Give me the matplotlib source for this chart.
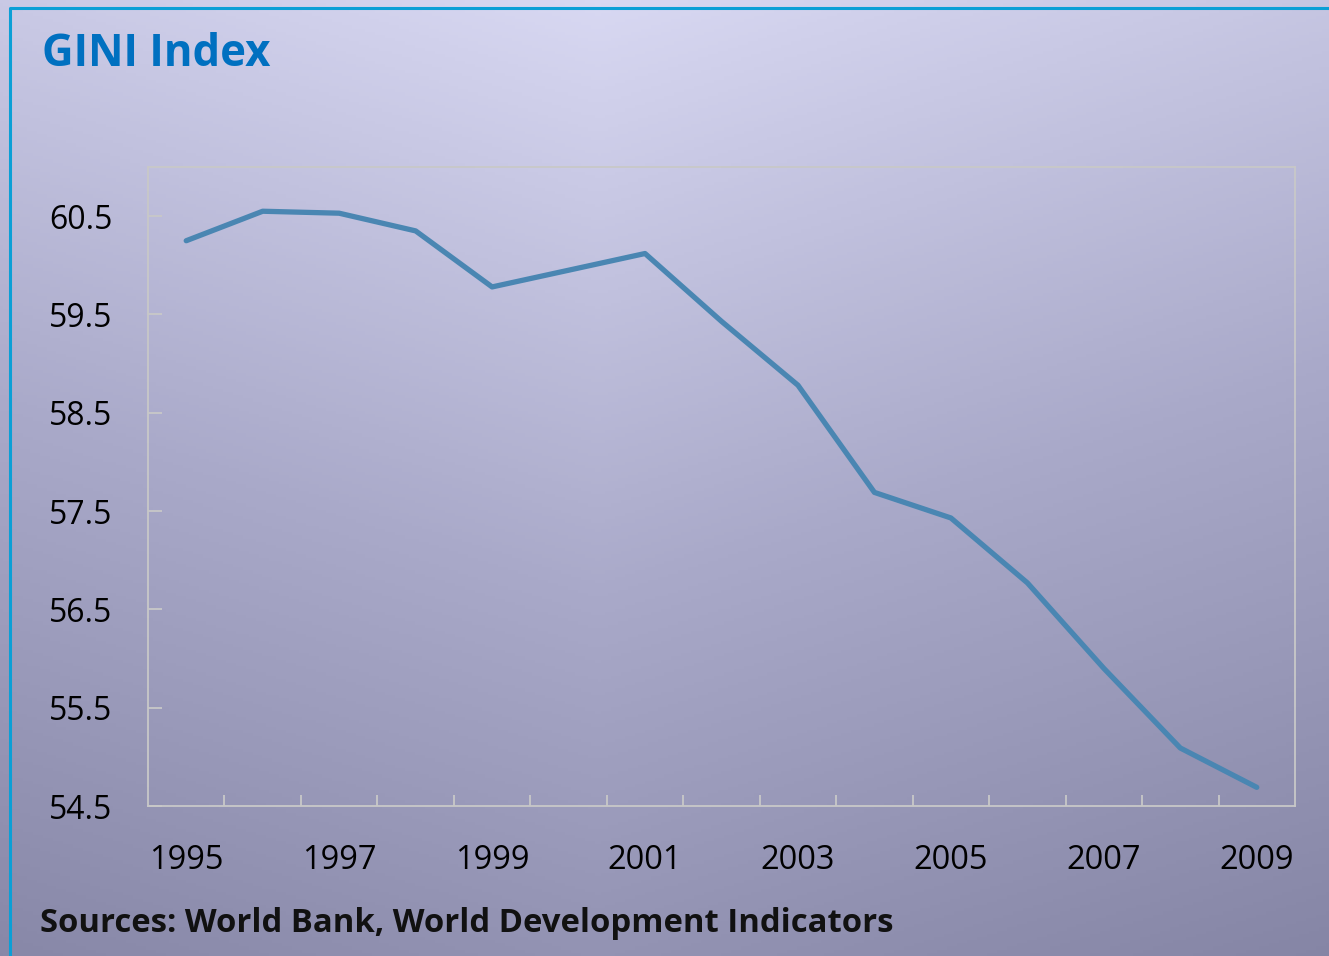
import numpy as np
import matplotlib
matplotlib.use("Agg")
import matplotlib.pyplot as plt
from matplotlib.colors import LinearSegmentedColormap

years = list(range(1995, 2010))
gini = [60.25, 60.55, 60.53, 60.35, 59.78, 59.95, 60.12, 59.43, 58.78,
        57.69, 57.43, 56.77, 55.90, 55.09, 54.69]
ytick_vals = [54.5, 55.5, 56.5, 57.5, 58.5, 59.5, 60.5]
title = "GINI Index"
source = "Sources: World Bank, World Development Indicators"

plt.rcParams['font.family'] = ['Open Sans', 'DejaVu Sans']

fig = plt.figure(figsize=(13.29, 9.56), dpi=100)

# background gradient, lighter at the top middle, darker towards bottom corners
bg = fig.add_axes([0, 0, 1, 1], zorder=-10)
yy, xx = np.mgrid[0:1:300j, 0:1:400j]
val = 0.8 * yy + 0.35 * np.abs(xx - 0.45)
cmap = LinearSegmentedColormap.from_list("bg", ["#d8d8f2", "#a9a9c9", "#8585a5"])
bg.imshow(val, cmap=cmap, aspect='auto', extent=[0, 1, 0, 1], vmin=0, vmax=1.0, origin='upper')
bg.set_xlim(0, 1)
bg.set_ylim(0, 1)
bg.axis('off')
# blue border on top and left
bg.plot([10/1329, 10/1329, 1], [0, 1 - 8/956, 1 - 8/956], color="#0b9fd6", lw=2.2,
        solid_capstyle='butt')

ax = fig.add_axes([148/1329, 1 - 806/956, 1147/1329, 639/956])
ax.patch.set_alpha(0)
x = np.arange(len(years))
ax.plot(x, gini, color="#4a86b2", lw=3.8, solid_capstyle='round', solid_joinstyle='round')
ax.set_xlim(-0.5, len(years) - 0.5)
ax.set_ylim(54.5, 61.0)

ax.set_yticks(ytick_vals)
ax.set_yticklabels([f"{v:.1f}" for v in ytick_vals], fontsize=23)
ax.set_xticks(x[::2])
ax.set_xticklabels([str(y) for y in years[::2]], fontsize=23.5)
ax.set_xticks(x[:-1] + 0.5, minor=True)
ax.tick_params(axis='x', which='major', length=0, pad=27.5)
ax.tick_params(axis='x', which='minor', direction='in', length=8, color="#c8c8c8", width=1.3)
ax.tick_params(axis='y', direction='in', length=10, color="#c8c8c8", width=1.3, pad=71)
for lbl in ax.get_yticklabels():
    lbl.set_horizontalalignment('left')
for s in ax.spines.values():
    s.set_color("#c8c8c8")
    s.set_linewidth(1.3)

fig.text(42/1329, 1 - 55/956, title, fontsize=31.5, fontweight='bold', color="#0070c0",
         va='center', ha='left')
fig.text(40/1329, 1 - 924/956, source, fontsize=23.7, fontweight='bold', color="#111111",
         va='center', ha='left')

fig.savefig("out.png", dpi=100)
